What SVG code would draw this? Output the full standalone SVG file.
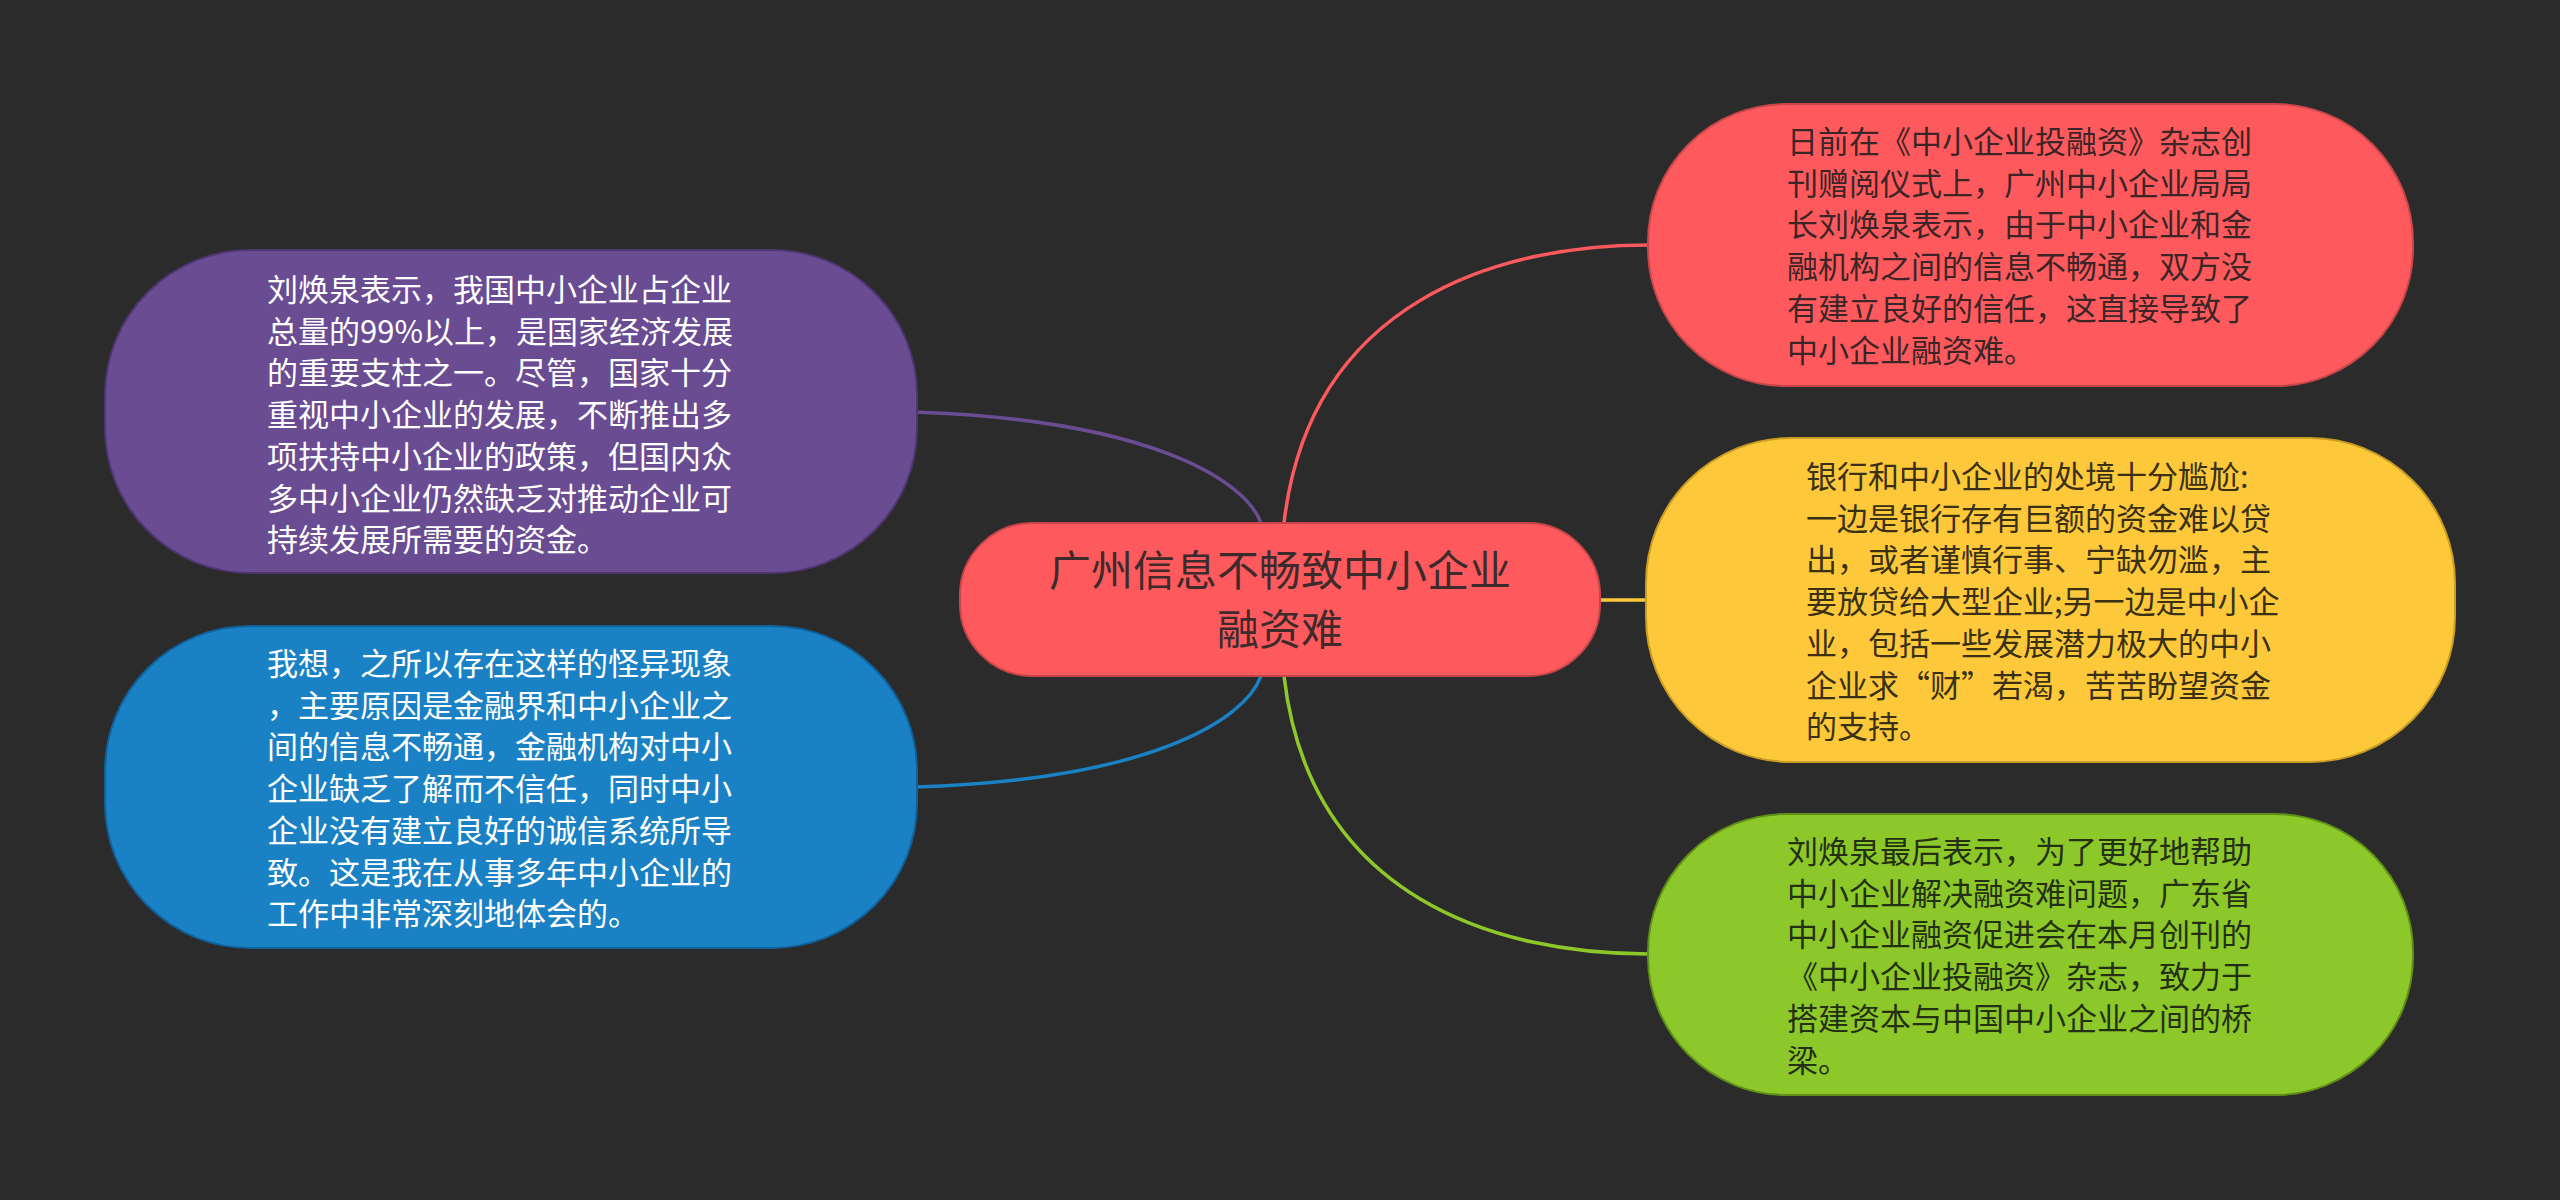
<svg xmlns="http://www.w3.org/2000/svg" width="2560" height="1200" viewBox="0 0 2560 1200">
<style>
.t{font-family:"Noto Sans CJK SC","Noto Sans",sans-serif;font-size:31px}
.c{font-family:"Noto Sans CJK SC","Noto Sans",sans-serif;font-size:42px;fill:#3d2a2b;text-anchor:middle}
.w{fill:#ffffff}
.conn{fill:none;stroke-width:3.5}
</style>
<rect x="0" y="0" width="2560" height="1200" fill="#2b2b2b"/>
<g id="connectors">
<path class="conn" stroke="#6a4c93" d="M1261 523 C1245 480 1150 420 914 412"/>
<path class="conn" stroke="#1a82c4" d="M1261 676 C1245 720 1150 780 914 787"/>
<path class="conn" stroke="#fe5a5e" d="M1284 523 C1310 300 1500 245 1648 245"/>
<path class="conn" stroke="#fdc93b" d="M1598 600 L1648 600"/>
<path class="conn" stroke="#8dc82a" d="M1284 676 C1310 900 1500 954 1648 954"/>
</g>
<g id="center">
<rect x="960" y="523" width="640" height="153" rx="72" ry="72" fill="#fe5a5e" stroke="#c8454a" stroke-width="2"/>
<text class="c" x="1280" y="586">广州信息不畅致中小企业</text>
<text class="c" x="1280" y="645">融资难</text>
</g>
<g id="n_red">
<rect x="1648" y="104" width="765" height="282" rx="138" ry="138" fill="#fe5a5e" stroke="#c8454a" stroke-width="2"/>
<text class="t" fill="#3b2526" x="1787" y="153"><tspan x="1787">日前在《中小企业投融资》杂志创</tspan><tspan x="1787" dy="41.7">刊赠阅仪式上，广州中小企业局局</tspan><tspan x="1787" dy="41.7">长刘焕泉表示，由于中小企业和金</tspan><tspan x="1787" dy="41.7">融机构之间的信息不畅通，双方没</tspan><tspan x="1787" dy="41.7">有建立良好的信任，这直接导致了</tspan><tspan x="1787" dy="41.7">中小企业融资难。</tspan></text>
</g>
<g id="n_yellow">
<rect x="1646" y="438" width="809" height="324" rx="145" ry="145" fill="#fdc93b" stroke="#c99c22" stroke-width="2"/>
<text class="t" fill="#3a3014" x="1806" y="488"><tspan x="1806">银行和中小企业的处境十分尴尬:</tspan><tspan x="1806" dy="41.7">一边是银行存有巨额的资金难以贷</tspan><tspan x="1806" dy="41.7">出，或者谨慎行事、宁缺勿滥，主</tspan><tspan x="1806" dy="41.7">要放贷给大型企业;另一边是中小企</tspan><tspan x="1806" dy="41.7">业，包括一些发展潜力极大的中小</tspan><tspan x="1806" dy="41.7">企业求“财”若渴，苦苦盼望资金</tspan><tspan x="1806" dy="41.7">的支持。</tspan></text>
</g>
<g id="n_green">
<rect x="1648" y="814" width="765" height="281" rx="138" ry="138" fill="#8dc82a" stroke="#5f8f16" stroke-width="2"/>
<text class="t" fill="#243012" x="1787" y="863"><tspan x="1787">刘焕泉最后表示，为了更好地帮助</tspan><tspan x="1787" dy="41.7">中小企业解决融资难问题，广东省</tspan><tspan x="1787" dy="41.7">中小企业融资促进会在本月创刊的</tspan><tspan x="1787" dy="41.7">《中小企业投融资》杂志，致力于</tspan><tspan x="1787" dy="41.7">搭建资本与中国中小企业之间的桥</tspan><tspan x="1787" dy="41.7">梁。</tspan></text>
</g>
<g id="n_purple">
<rect x="105" y="250" width="812" height="323" rx="145" ry="145" fill="#6a4c93" stroke="#4e3672" stroke-width="2"/>
<text class="t w" x="267" y="301"><tspan x="267">刘焕泉表示，我国中小企业占企业</tspan><tspan x="267" dy="41.7">总量的99%以上，是国家经济发展</tspan><tspan x="267" dy="41.7">的重要支柱之一。尽管，国家十分</tspan><tspan x="267" dy="41.7">重视中小企业的发展，不断推出多</tspan><tspan x="267" dy="41.7">项扶持中小企业的政策，但国内众</tspan><tspan x="267" dy="41.7">多中小企业仍然缺乏对推动企业可</tspan><tspan x="267" dy="41.7">持续发展所需要的资金。</tspan></text>
</g>
<g id="n_blue">
<rect x="105" y="626" width="812" height="322" rx="145" ry="145" fill="#1a82c4" stroke="#10609a" stroke-width="2"/>
<text class="t w" x="267" y="675"><tspan x="267">我想，之所以存在这样的怪异现象</tspan><tspan x="267" dy="41.7">，主要原因是金融界和中小企业之</tspan><tspan x="267" dy="41.7">间的信息不畅通，金融机构对中小</tspan><tspan x="267" dy="41.7">企业缺乏了解而不信任，同时中小</tspan><tspan x="267" dy="41.7">企业没有建立良好的诚信系统所导</tspan><tspan x="267" dy="41.7">致。这是我在从事多年中小企业的</tspan><tspan x="267" dy="41.7">工作中非常深刻地体会的。</tspan></text>
</g>
</svg>
